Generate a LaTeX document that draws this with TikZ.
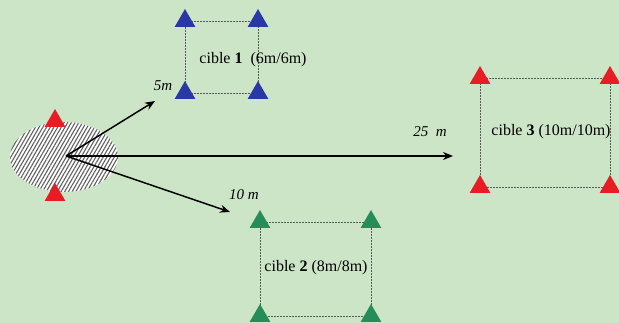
\documentclass[tikz,border=0pt]{standalone}
\usepackage{fontspec}
\setmainfont{Liberation Serif}
\usetikzlibrary{shapes.geometric,arrows.meta,patterns.meta}
\definecolor{bg}{RGB}{205,229,199}
\definecolor{tred}{RGB}{232,28,36}
\definecolor{tblue}{RGB}{40,56,165}
\definecolor{tgreen}{RGB}{38,140,88}
\begin{document}
\begin{tikzpicture}[x=1pt,y=-1pt,
  tri/.style={regular polygon,regular polygon sides=3,minimum size=24pt,inner sep=0pt,draw=none,fill=#1},
  dline/.style={draw=black!65,line width=0.9pt,dash pattern=on 2pt off 1pt},
  arr/.style={line width=1.5pt,-{Stealth[length=10pt,width=8pt]}},
  lab/.style={font=\fontsize{16}{18}\selectfont,inner sep=0pt},
  dist/.style={font=\fontsize{15}{17}\selectfont\itshape,inner sep=0pt}]
\fill[bg] (0,0) rectangle (619,323);
\useasboundingbox (0,0) rectangle (619,323);
% hatched zone
\node[ellipse,minimum width=108pt,minimum height=70pt,inner sep=0pt,
  preaction={fill=white},pattern={Lines[angle=60,distance=3.2pt,line width=1.1pt]},pattern color=black!62]
  (zone) at (64,157) {};
\coordinate (O) at (66,156);
\node[tri=tred] (z1) at (55,121) {};
\node[tri=tred] (z2) at (55,195) {};
% cible 1
\coordinate (a1) at (185,21); \coordinate (a2) at (258,21);
\coordinate (a3) at (258,93); \coordinate (a4) at (185,93);
\draw[dline] (a1) -- (a2) -- (a3) -- (a4) -- cycle;
\node[tri=tblue] (ta1) at (a1) {};
\node[tri=tblue] (ta2) at (a2) {};
\node[tri=tblue] (ta3) at (a3) {};
\node[tri=tblue] (ta4) at (a4) {};
\node[lab] (l1) at (253,60) {cible \textbf{1}\ \ (6m/6m)};
% cible 2
\coordinate (b1) at (260,222); \coordinate (b2) at (371,222);
\coordinate (b3) at (371,316); \coordinate (b4) at (260,316);
\draw[dline] (b1) -- (b2) -- (b3) -- (b4) -- cycle;
\node[tri=tgreen] (tb1) at (b1) {};
\node[tri=tgreen] (tb2) at (b2) {};
\node[tri=tgreen] (tb3) at (b3) {};
\node[tri=tgreen] (tb4) at (b4) {};
\node[lab] (l2) at (316,268) {cible \textbf{2} (8m/8m)};
% cible 3
\coordinate (c1) at (480,78); \coordinate (c2) at (610,78);
\coordinate (c3) at (610,187); \coordinate (c4) at (480,187);
\draw[dline] (c1) -- (c2) -- (c3) -- (c4) -- cycle;
\node[tri=tred] (tc1) at (c1) {};
\node[tri=tred] (tc2) at (c2) {};
\node[tri=tred] (tc3) at (c3) {};
\node[tri=tred] (tc4) at (c4) {};
\node[lab] (l3) at (551,132) {cible \textbf{3} (10m/10m)};
% arrows
\coordinate (e1) at (155,101);
\coordinate (e2) at (453,156);
\coordinate (e3) at (230,212);
\draw[arr] (O) -- (e1);
\draw[arr] (O) -- (e2);
\draw[arr] (O) -- (e3);
\node[dist] (d1) at (163,86) {5m};
\node[dist] (d2) at (430,132) {25\ \ m};
\node[dist] (d3) at (244,195) {10 m};
\end{tikzpicture}
\end{document}
